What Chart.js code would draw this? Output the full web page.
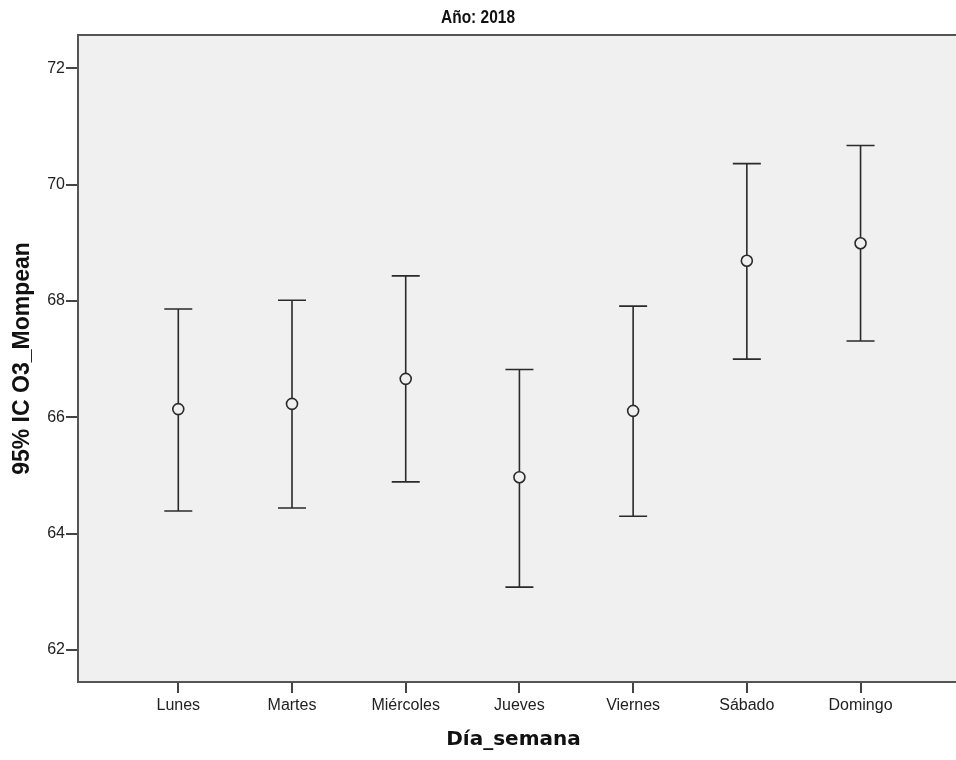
<!DOCTYPE html>
<html>
<head>
<meta charset="utf-8">
<script src="https://cdn.jsdelivr.net/npm/chart.js@4/dist/chart.umd.min.js"></script>
<style>
  html, body { margin: 0; padding: 0; background: #ffffff; overflow: hidden; }
  #wrap { width: 956px; height: 760px; overflow: hidden; }
  canvas { display: block; }
</style>
</head>
<body>
<div id="wrap"><canvas id="c" width="956" height="760"></canvas></div>
<script>
const days = ["Lunes", "Martes", "Miércoles", "Jueves", "Viernes", "Sábado", "Domingo"];
const means = [66.14, 66.23, 66.66, 64.97, 66.11, 68.69, 68.99];
const upper = [67.86, 68.01, 68.43, 66.82, 67.91, 70.36, 70.67];
const lower = [64.39, 64.44, 64.89, 63.08, 64.30, 67.00, 67.31];
const yTicks = [62, 64, 66, 68, 70, 72];
const chartTitle = 'Año: 2018';

const points = means.map((v, i) => ({ x: i, y: v }));

const bgPlugin = {
  id: 'bg',
  beforeDraw(chart) {
    const { ctx, chartArea: a } = chart;
    ctx.save();
    ctx.fillStyle = '#f0f0f0';
    ctx.fillRect(a.left, a.top, chart.width - a.left, a.bottom - a.top);
    ctx.strokeStyle = '#555';
    ctx.lineWidth = 2;
    ctx.beginPath();
    ctx.moveTo(a.left, a.top);
    ctx.lineTo(chart.width, a.top);
    ctx.moveTo(a.left, a.bottom);
    ctx.lineTo(chart.width, a.bottom);
    ctx.stroke();
    // condensed bold title
    ctx.fillStyle = '#111';
    ctx.font = 'bold 18px "Liberation Sans Narrow", "Liberation Sans", Arial, sans-serif';
    ctx.textAlign = 'center';
    ctx.textBaseline = 'middle';
    ctx.translate(chart.width / 2, 18);
    ctx.scale(0.86, 1.05);
    ctx.fillText(chartTitle, 0, 0);
    ctx.restore();
  }
};

const errPlugin = {
  id: 'errbars',
  beforeDatasetsDraw(chart) {
    const { ctx, scales: { x, y } } = chart;
    ctx.save();
    ctx.strokeStyle = '#2a2a2a';
    ctx.lineWidth = 1.6;
    const half = 14;
    for (let i = 0; i < means.length; i++) {
      const px = x.getPixelForValue(i);
      const pu = y.getPixelForValue(upper[i]);
      const pl = y.getPixelForValue(lower[i]);
      ctx.beginPath();
      ctx.moveTo(px, pu); ctx.lineTo(px, pl);
      ctx.moveTo(px - half, pu); ctx.lineTo(px + half, pu);
      ctx.moveTo(px - half, pl); ctx.lineTo(px + half, pl);
      ctx.stroke();
    }
    ctx.restore();
  }
};

new Chart(document.getElementById('c'), {
  type: 'scatter',
  data: {
    datasets: [{
      data: points,
      showLine: false,
      pointRadius: 5.5,
      pointHoverRadius: 5.5,
      pointBorderWidth: 1.6,
      pointBorderColor: '#2a2a2a',
      pointBackgroundColor: '#f0f0f0'
    }]
  },
  options: {
    responsive: false,
    animation: false,
    devicePixelRatio: 1,
    layout: { padding: { left: 0, right: 0, top: 35, bottom: 0 } },
    plugins: {
      legend: { display: false },
      tooltip: { enabled: false },
      title: { display: false }
    },
    scales: {
      x: {
        type: 'linear',
        min: -0.882,
        max: 6.777,
        afterBuildTicks(scale) { scale.ticks = days.map((d, i) => ({ value: i })); },
        afterFit(scale) { scale.height = 78; },
        ticks: {
          autoSkip: false,
          maxRotation: 0,
          padding: 3,
          color: '#222',
          font: { family: '"Liberation Sans", Arial, sans-serif', size: 16 },
          callback: (v) => days[v]
        },
        grid: { drawOnChartArea: false, drawTicks: true, tickLength: 11, color: '#444', lineWidth: 2 },
        border: { display: true, color: '#555', width: 2 },
        title: {
          display: true,
          text: 'Día_semana',
          color: '#111',
          font: { family: '"DejaVu Sans", Verdana, sans-serif', size: 20, weight: 'bold', lineHeight: 1.2 },
          padding: { top: 0, bottom: 8 }
        }
      },
      y: {
        type: 'linear',
        min: 61.45,
        max: 72.57,
        afterBuildTicks(scale) { scale.ticks = yTicks.map(v => ({ value: v })); },
        afterFit(scale) { scale.width = 78; },
        ticks: {
          padding: 1,
          color: '#222',
          font: { family: '"Liberation Sans", Arial, sans-serif', size: 16 },
          callback: (v) => String(v)
        },
        grid: { drawOnChartArea: false, drawTicks: true, tickLength: 12, color: '#444', lineWidth: 2 },
        border: { display: true, color: '#555', width: 2 },
        title: {
          display: true,
          text: '95% IC O3_Mompean',
          color: '#111',
          font: { family: '"Liberation Sans", Arial, sans-serif', size: 23, weight: 'bold', lineHeight: 1.2 },
          padding: { top: 8.7, bottom: 0 }
        }
      }
    }
  },
  plugins: [bgPlugin, errPlugin]
});
</script>
</body>
</html>
